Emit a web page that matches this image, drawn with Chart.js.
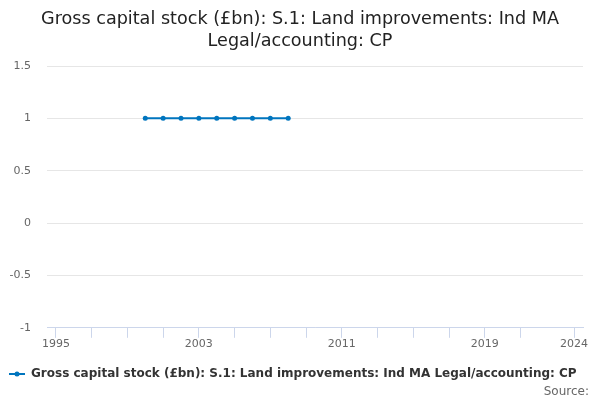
<!DOCTYPE html>
<html>
<head>
<meta charset="utf-8">
<script src="https://cdn.jsdelivr.net/npm/chart.js@4/dist/chart.umd.min.js"></script>
<style>
html,body{margin:0;padding:0;background:#fff;}
#wrap{position:relative;width:600px;height:400px;}
#src{position:absolute;right:11px;top:384px;font:12px "DejaVu Sans",sans-serif;color:#666;}
</style>
</head>
<body>
<div id="wrap"><canvas id="c" width="600" height="400"></canvas><div id="src">Source:</div></div>
<script>
const years = [2000, 2001, 2002, 2003, 2004, 2005, 2006, 2007, 2008];
const values = [1, 1, 1, 1, 1, 1, 1, 1, 1];
const xTicks = [1995, 1997, 1999, 2001, 2003, 2005, 2007, 2009, 2011, 2013, 2015, 2017, 2019, 2021, 2024];
const xLabels = [1995, 2003, 2011, 2019, 2024];
const yTicks = [-1, -0.5, 0, 0.5, 1, 1.5];
const seriesName = 'Gross capital stock (£bn): S.1: Land improvements: Ind MA Legal/accounting: CP';
const titleLines = ['Gross capital stock (£bn): S.1: Land improvements: Ind MA', 'Legal/accounting: CP'];

const color = '#0075be';
Chart.defaults.font.family = '"DejaVu Sans", sans-serif';

// legend marker: line with dot
const mk = document.createElement('canvas');
mk.width = 16; mk.height = 8;
const mctx = mk.getContext('2d');
mctx.strokeStyle = color; mctx.lineWidth = 2;
mctx.beginPath(); mctx.moveTo(0, 4); mctx.lineTo(16, 4); mctx.stroke();
mctx.fillStyle = color; mctx.beginPath(); mctx.arc(8, 4, 2.5, 0, Math.PI * 2); mctx.fill();

new Chart(document.getElementById('c'), {
  type: 'line',
  data: {
    datasets: [{
      label: seriesName,
      data: years.map((y, i) => ({x: y, y: values[i]})),
      borderColor: color,
      backgroundColor: color,
      borderWidth: 2,
      pointRadius: 2.5,
      pointBorderWidth: 0,
      pointHoverRadius: 3,
      tension: 0
    }]
  },
  options: {
    responsive: false,
    animation: false,
    layout: {padding: {left: 0, right: 0, top: 0, bottom: 10}},
    plugins: {
      title: {
        display: true,
        text: titleLines,
        color: '#222',
        font: {size: 17.6, weight: 'normal', lineHeight: 1.25},
        padding: {top: 8, bottom: 14}
      },
      legend: {
        position: 'bottom',
        align: 'start',
        labels: {
          usePointStyle: true,
          pointStyle: mk,
          pointStyleWidth: 16,
          color: '#333',
          font: {size: 12, weight: 'bold'},
          padding: 9
        }
      },
      tooltip: {enabled: false}
    },
    scales: {
      x: {
        type: 'linear',
        min: 1994.5,
        max: 2024.5,
        afterBuildTicks: (axis) => { axis.ticks = xTicks.map(v => ({value: v})); },
        afterFit: (axis) => { axis.height += 8; },
        ticks: {
          autoSkip: false,
          maxRotation: 0,
          color: '#666',
          font: {size: 11},
          padding: 0,
          callback: (v) => xLabels.includes(v) ? String(v) : ''
        },
        grid: {
          drawOnChartArea: false,
          drawTicks: true,
          tickLength: 10,
          color: '#ccd6eb'
        },
        border: {color: '#ccd6eb', width: 1}
      },
      y: {
        min: -1,
        max: 1.5,
        afterBuildTicks: (axis) => { axis.ticks = yTicks.map(v => ({value: v})); },
        afterFit: (axis) => { axis.width = 47; },
        ticks: {
          color: '#666',
          font: {size: 11},
          padding: 16,
          callback: (v) => String(v)
        },
        grid: {color: '#e6e6e6', drawTicks: false},
        border: {display: false}
      },
      yRight: {
        position: 'right',
        min: -1,
        max: 1.5,
        afterFit: (axis) => { axis.width = 17; },
        ticks: {display: false},
        grid: {display: false},
        border: {display: false}
      }
    }
  }
});
</script>
</body>
</html>
